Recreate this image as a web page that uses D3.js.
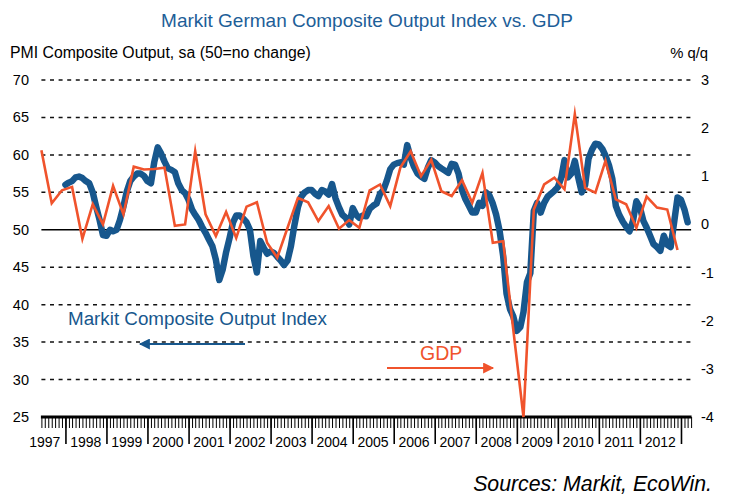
<!DOCTYPE html>
<html><head><meta charset="utf-8">
<script src="https://cdn.jsdelivr.net/npm/d3@7"></script>
<style>
html,body{margin:0;padding:0;background:#fff;}
svg{display:block;font-family:"Liberation Sans",Arial,sans-serif;}
</style></head>
<body>
<svg id="chart" width="729" height="504"></svg>
<script>
// ---- data ----
const pmiStart = "1998-01";   // first month of the PMI series
const pmiValues = [
  56.0,56.3,56.5,57.0,57.1,56.9,56.5,56.2,55.0,53.1,51.3,49.3, // 1998
  49.2,50.0,49.8,50.0,51.3,53.1,55.1,56.5,57.1,57.5,57.5,57.2, // 1999
  56.5,56.2,59.0,61.0,60.2,59.1,58.2,58.0,57.7,56.2,55.3,54.9, // 2000
  54.0,52.7,52.0,51.3,50.4,49.6,48.7,47.8,46.0,43.3,44.7,47.0, // 2001
  48.9,51.0,51.9,51.9,51.5,51.0,50.0,46.5,44.3,48.5,47.6,46.8, // 2002
  47.1,46.9,46.4,45.9,45.3,45.9,47.8,50.6,53.0,54.4,55.0,55.3, // 2003
  55.3,54.8,54.5,55.3,55.1,54.7,56.1,54.2,53.0,52.0,51.6,50.7, // 2004
  52.9,52.0,51.6,51.9,51.8,52.8,53.2,53.5,54.8,55.3,56.6,58.1, // 2005
  58.7,58.9,59.0,58.7,61.3,59.6,58.4,57.5,57.1,56.8,58.3,59.3, // 2006
  59.0,58.5,58.2,57.9,57.6,58.8,58.7,57.5,55.3,54.1,53.2,52.3, // 2007
  52.3,53.6,53.2,55.0,54.6,53.5,52.0,49.8,46.5,41.5,39.4,38.4, // 2008
  36.5,37.0,39.0,43.0,44.2,52.5,53.6,52.3,53.6,54.4,54.8,55.2, // 2009
  55.7,57.0,59.3,57.0,57.5,59.2,57.0,55.0,56.0,59.5,60.7,61.5, // 2010
  61.4,60.8,59.9,58.6,56.8,53.2,52.0,51.1,50.4,49.8,51.2,53.8, // 2011
  53.0,51.2,50.3,49.2,48.1,47.7,47.2,49.2,48.0,47.7,51.0,54.3, // 2012
  54.0,52.7,51.0                                               // 2013
];
const gdpStart = "1997-06";   // last month of 1997 Q2, where the first quarter is plotted
const gdpValues = [
  1.54,0.44,0.71,                 // 1997 Q2-Q4
  0.78,-0.30,0.42,0.00,           // 1998
  0.80,0.21,1.20,1.14,            // 1999
  1.15,1.18,-0.03,0.00,           // 2000
  1.52,0.21,-0.24,0.26,           // 2001
  -0.28,0.37,0.46,-0.38,          // 2002
  -0.69,-0.07,0.55,0.46,          // 2003
  0.07,0.38,-0.09,0.09,           // 2004
  -0.07,0.71,0.83,0.38,           // 2005
  1.18,1.52,1.00,1.34,            // 2006
  0.69,0.59,0.92,0.45,            // 2007
  1.07,-0.38,-0.35,-2.20,         // 2008
  -4.00,0.31,0.83,0.97,           // 2009
  0.73,2.29,0.76,0.66,            // 2010
  1.32,0.52,0.42,-0.07,           // 2011
  0.58,0.35,0.31,-0.53            // 2012
];
const leftTicks = [25,30,35,40,45,50,55,60,65,70];
const rightTicks = [-4,-3,-2,-1,0,1,2,3];
const yearLabels = ["1997","1998","1999","2000","2001","2002","2003","2004","2005","2006","2007","2008","2009","2010","2011","2012"];
const titleText = "Markit German Composite Output Index vs. GDP";
const leftAxisTitle = "PMI Composite Output, sa (50=no change)";
const rightAxisTitle = "% q/q";
const pmiLabel = "Markit Composite Output Index";
const gdpLabel = "GDP";
const sourceText = "Sources: Markit, EcoWin.";

// ---- setup ----
const BLUE = "#17578d", ORANGE = "#f0532c", TITLEBLUE = "#1d5e98";
const svg = d3.select("#chart");
const parseM = d3.timeParse("%Y-%m");
const t0 = parseM(pmiStart), g0 = parseM(gdpStart);
const pmi = pmiValues.map((v,i)=>({date:d3.timeMonth.offset(t0,i), v}));
const gdp = gdpValues.map((v,i)=>({date:d3.timeMonth.offset(g0,i*3), v}));

const x = d3.scaleTime().domain([new Date(1997,5,1), new Date(2013,3,1)]).range([41.4, 691.1]);
const yL = d3.scaleLinear().domain([25,70]).range([417,80]);
const yR = d3.scaleLinear().domain([-4,3]).range([417,80]);
const x0 = 41.4, x1 = 691.1;

// title & axis titles
svg.append("text").attr("x",367).attr("y",27).attr("text-anchor","middle")
  .attr("font-size",19).attr("fill",TITLEBLUE).text(titleText);
svg.append("text").attr("x",10).attr("y",58).attr("font-size",15.8).attr("fill","#000").text(leftAxisTitle);
svg.append("text").attr("x",708).attr("y",58).attr("text-anchor","end").attr("font-size",14.8).attr("fill","#000").text(rightAxisTitle);

// gridlines
svg.append("g").selectAll("line").data(leftTicks.filter(d=>d!==25 && d!==50)).join("line")
  .attr("x1",x0).attr("x2",x1).attr("y1",d=>yL(d)).attr("y2",d=>yL(d))
  .attr("stroke","#111").attr("stroke-width",1.5).attr("stroke-dasharray","4,4.6");
svg.append("line").attr("x1",x0).attr("x2",x1).attr("y1",yL(50)).attr("y2",yL(50))
  .attr("stroke","#000").attr("stroke-width",1.5);

// left tick labels
svg.append("g").selectAll("text").data(leftTicks).join("text")
  .attr("x",29).attr("y",d=>yL(d)+5).attr("text-anchor","end").attr("font-size",14.5).text(d=>d);
// right tick labels
svg.append("g").selectAll("text").data(rightTicks).join("text")
  .attr("x",701).attr("y",d=>yR(d)+5).attr("text-anchor","start").attr("font-size",14.5).text(d=>d);

// x axis: monthly minor ticks, yearly major ticks
const axY = 417;
const minor = d3.axisBottom(x).ticks(d3.timeMonth.every(1)).tickSize(11).tickFormat("");
const gMinor = svg.append("g").attr("transform",`translate(0,${axY})`).call(minor);
gMinor.select(".domain").remove();
gMinor.selectAll(".tick line").attr("stroke","#000").attr("stroke-width",1);
const major = d3.axisBottom(x).ticks(d3.timeYear.every(1)).tickSize(27).tickFormat("");
const gMajor = svg.append("g").attr("transform",`translate(0,${axY})`).call(major);
gMajor.select(".domain").remove();
gMajor.selectAll(".tick line").attr("stroke","#000").attr("stroke-width",1.6);
svg.append("line").attr("x1",x0-0.5).attr("x2",x1+0.5).attr("y1",axY).attr("y2",axY)
  .attr("stroke","#000").attr("stroke-width",3);
svg.append("g").selectAll("text").data(yearLabels).join("text")
  .attr("x",d=>x(new Date(+d,6,1))).attr("y",447).attr("text-anchor","middle")
  .attr("font-size",14).text(d=>d);

// lines
const lineL = d3.line().x(d=>x(d.date)).y(d=>yL(d.v));
const lineR = d3.line().x(d=>x(d.date)).y(d=>yR(d.v));
svg.append("path").datum(pmi).attr("d",lineL).attr("fill","none")
  .attr("stroke",BLUE).attr("stroke-width",6.5).attr("stroke-linejoin","round").attr("stroke-linecap","round");
svg.append("path").datum(gdp).attr("d",lineR).attr("fill","none")
  .attr("stroke",ORANGE).attr("stroke-width",2.6).attr("stroke-linejoin","miter").attr("stroke-miterlimit",10);

// annotations
const defs = svg.append("defs");
function marker(id,color){
  defs.append("marker").attr("id",id).attr("viewBox","0 0 10 10").attr("refX",9).attr("refY",5)
    .attr("markerWidth",5.5).attr("markerHeight",5).attr("markerUnits","strokeWidth").attr("orient","auto")
    .append("path").attr("d","M0,0L10,5L0,10Z").attr("fill",color);
}
marker("ab",BLUE); marker("ao",ORANGE);
svg.append("text").attr("x",68).attr("y",325).attr("font-size",18.8).attr("fill",BLUE).text(pmiLabel);
svg.append("line").attr("x1",245).attr("x2",140).attr("y1",344).attr("y2",344)
  .attr("stroke",BLUE).attr("stroke-width",2.2).attr("marker-end","url(#ab)");
svg.append("text").attr("x",420).attr("y",360).attr("font-size",19.5).attr("fill",ORANGE).text(gdpLabel);
svg.append("line").attr("x1",387).attr("x2",493).attr("y1",368).attr("y2",368)
  .attr("stroke",ORANGE).attr("stroke-width",2.2).attr("marker-end","url(#ao)");

// source
svg.append("text").attr("x",712).attr("y",491).attr("text-anchor","end").attr("font-size",21.3)
  .attr("font-style","italic").text(sourceText);
</script>
</body></html>
